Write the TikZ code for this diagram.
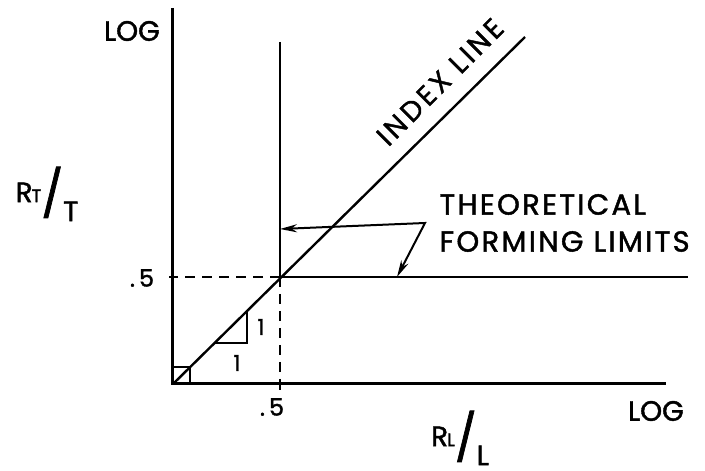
\documentclass[tikz,border=0pt]{standalone}
\usepackage{fontspec}
\setmainfont{Poppins}[FakeBold=1.5]
\usetikzlibrary{arrows.meta}
\newcommand{\rover}[1]{R\kern-1pt{\fontsize{18}{18}\selectfont #1}\raisebox{-8pt}{\fontsize{46}{46}\selectfont /}\raisebox{-19pt}{#1}}
\begin{document}
\begin{tikzpicture}[x=1pt, y=1pt, >={Stealth[length=17pt, width=8pt]}, font=\fontsize{28}{37}\selectfont]
\useasboundingbox (-173,-87) rectangle (532,384);
\coordinate (o) at (0,0);
\coordinate (ytop) at (0,376);
\coordinate (xend) at (493,0);
\coordinate (p) at (107,107);
\coordinate (vtop) at (107,342);
\coordinate (hend) at (515,107);
\coordinate (idx) at (352,347);
\coordinate (yh) at (0,107);
\coordinate (xh) at (107,0);
\draw[line width=3pt] (ytop) -- (o) -- (xend);
\draw[line width=2.4pt] (o) -- (idx);
\draw[line width=2.4pt] (vtop) -- (p) -- (hend);
\draw[line width=2pt, dash pattern=on 10pt off 7pt] (p) -- (yh);
\draw[line width=2pt, dash pattern=on 10pt off 7pt] (p) -- (xh);
\draw[line width=2pt] (yh) -- ++(-4,0);
\draw[line width=2pt] (xh) -- ++(0,-6);
% small square and slope triangle
\draw[line width=2pt] (0,17) -- (17,17) -- (17,0);
\draw[line width=2pt] (42,41) -- (74,41) -- (74,73);
\node[font=\fontsize{22}{22}\selectfont] (one1) at (64,21) {1};
\node[font=\fontsize{22}{22}\selectfont] (one2) at (88,57) {1};
% labels
\node (logy) at (-41,353) {LOG};
\node (logx) at (483,-27) {LOG};
\node[font=\fontsize{24}{24}\selectfont] (hy) at (-31,106) {.\,5};
\node[font=\fontsize{24}{24}\selectfont] (hx) at (99,-23) {.\,5};
\node (ry) at (-126,190) {\rover{T}};
\node[inner sep=0pt] (rx) at (287,-54) {\rover{L}};
\node[rotate=45, inner sep=0pt, font=\fontsize{28}{28}\selectfont\addfontfeature{LetterSpace=12}] (idxlbl) at (267,302) {INDEX LINE};
\node[align=left, anchor=west, font=\fontsize{29}{37}\selectfont\addfontfeature{LetterSpace=8}] (lim) at (263,161) {THEORETICAL\\FORMING LIMITS};
% arrows to the limits
\coordinate (j) at (252,161);
\coordinate (a1) at (107,155);
\coordinate (a2) at (224,107);
\draw[<->, line width=2pt] (a1) -- (j) -- (a2);
\end{tikzpicture}
\end{document}
